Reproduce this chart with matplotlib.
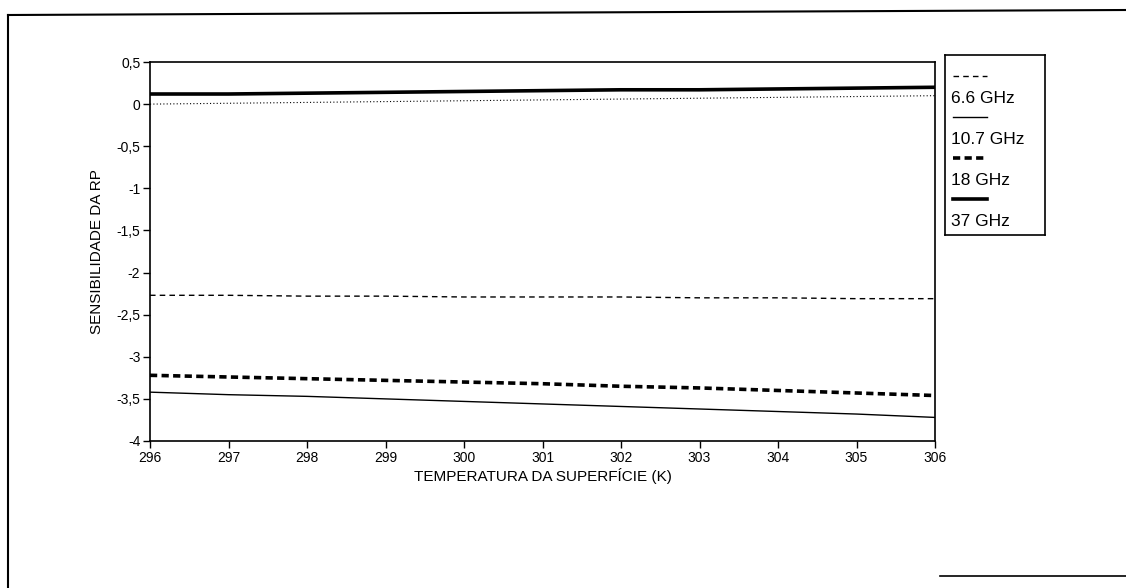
import matplotlib
matplotlib.use("Agg")
import matplotlib.pyplot as plt
from matplotlib.lines import Line2D

plt.rcParams['font.family'] = ['Liberation Sans', 'DejaVu Sans']

# surface temperature (K)
temp = [296, 297, 298, 299, 300, 301, 302, 303, 304, 305, 306]

# sensitivity of the polarization ratio
s_66 = [-2.27, -2.27, -2.28, -2.28, -2.29, -2.29, -2.29, -2.30, -2.30, -2.31, -2.31]
s_107 = [-3.42, -3.45, -3.47, -3.50, -3.53, -3.56, -3.59, -3.62, -3.65, -3.68, -3.72]
s_18 = [-3.22, -3.24, -3.26, -3.28, -3.30, -3.32, -3.35, -3.37, -3.40, -3.43, -3.46]
s_37 = [0.12, 0.12, 0.13, 0.14, 0.15, 0.16, 0.17, 0.17, 0.18, 0.19, 0.20]
s_dot = [0.00, 0.01, 0.02, 0.03, 0.04, 0.05, 0.06, 0.07, 0.08, 0.09, 0.10]

labels = ['6.6 GHz', '10.7 GHz', '18 GHz', '37 GHz']
yticks = [0.5, 0, -0.5, -1, -1.5, -2, -2.5, -3, -3.5, -4]
ytick_labels = ['0,5', '0', '-0,5', '-1', '-1,5', '-2', '-2,5', '-3', '-3,5', '-4']

W, H = 1126, 588
fig = plt.figure(figsize=(W / 100, H / 100), dpi=100)

styles = [
    dict(color='black', lw=1.0, dashes=(4, 3)),
    dict(color='black', lw=1.0),
    dict(color='black', lw=2.6, dashes=(2.0, 1.2)),
    dict(color='black', lw=2.6),
]

ax = fig.add_axes([150 / W, 1 - 441 / H, 785 / W, 379 / H])
ax.plot(temp, s_dot, color='black', lw=0.8, dashes=(1, 2))
for vals, st in zip([s_66, s_107, s_18, s_37], styles):
    ax.plot(temp, vals, **st)

ax.set_xlim(296, 306)
ax.set_ylim(-4, 0.5)
ax.set_xticks(temp)
ax.set_xticklabels([str(t) for t in temp], fontsize=10)
ax.set_yticks(yticks)
ax.set_yticklabels(ytick_labels, fontsize=10)
ax.tick_params(direction='out', length=5, width=1, pad=2, top=False, right=False)
for sp in ax.spines.values():
    sp.set_linewidth(1.2)
ax.set_xlabel('TEMPERATURA DA SUPERFÍCIE (K)', fontsize=11, labelpad=2)
ax.set_ylabel('SENSIBILIDADE DA RP', fontsize=11, labelpad=9)

# legend box: sample line above each label
lax = fig.add_axes([945 / W, 1 - 235 / H, 100 / W, 180 / H])
lax.set_xlim(0, 1)
lax.set_ylim(0, 1)
lax.set_xticks([])
lax.set_yticks([])
for sp in lax.spines.values():
    sp.set_linewidth(1.2)
for i, (lab, st) in enumerate(zip(labels, styles)):
    y0 = 0.885 - i * 0.228
    lax.add_line(Line2D([0.08, 0.42], [y0, y0], **st))
    lax.text(0.06, y0 - 0.125, lab, fontsize=12.5, va='center', ha='left')

# outer frame of the scanned figure
fig.add_artist(Line2D([8 / W, 8 / W], [1 - 15 / H, 0], color='black', lw=1.5))
fig.add_artist(Line2D([8 / W, 1], [1 - 15 / H, 1 - 10 / H], color='black', lw=1.5))
fig.add_artist(Line2D([940 / W, 1], [1 - 576 / H, 1 - 576 / H], color='black', lw=1.2))

fig.savefig('out.png', dpi=100)
